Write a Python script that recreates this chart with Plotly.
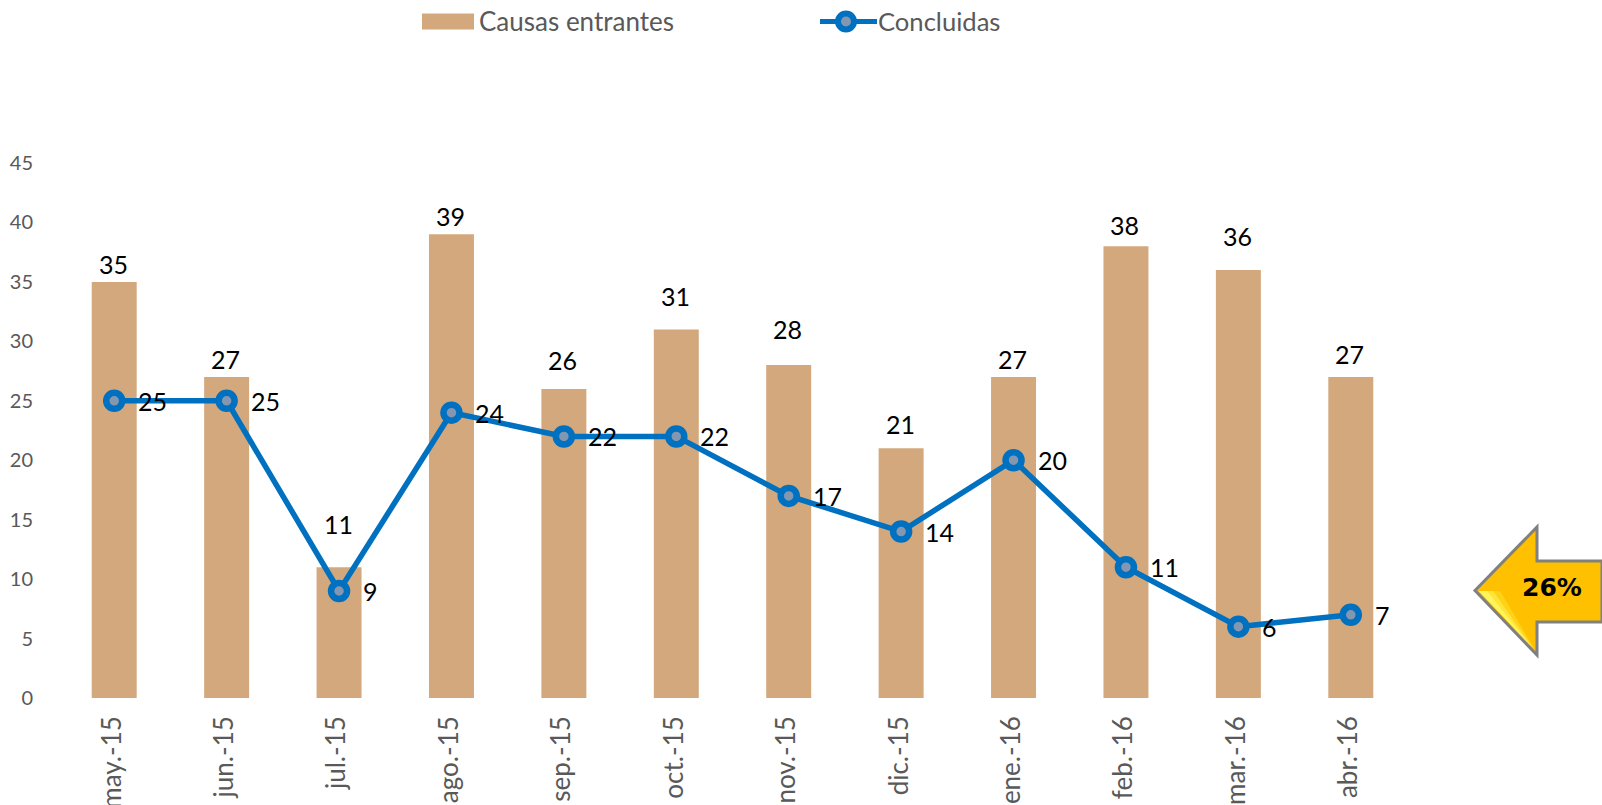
import plotly.graph_objects as go

months = ["may.-15", "jun.-15", "jul.-15", "ago.-15", "sep.-15", "oct.-15",
          "nov.-15", "dic.-15", "ene.-16", "feb.-16", "mar.-16", "abr.-16"]
entrantes = [35, 27, 11, 39, 26, 31, 28, 21, 27, 38, 36, 27]
concluidas = [25, 25, 9, 24, 22, 22, 17, 14, 20, 11, 6, 7]
# vertical gap (px) of each hand-placed bar label above its bar
bar_label_gap = [18, 18, 43, 18, 29, 33, 36, 24, 18, 21, 34, 23]
y_ticks = [0, 5, 10, 15, 20, 25, 30, 35, 40, 45]

W, H = 1602, 805
L, R, T, B = 58, 195, 163, 107
FONT = "Lato"
BAR = "#D3A87C"
BLUE = "#0070C0"
INNER = "#8497B0"
GREY = "#595959"


def px(x):
    return (x - L) / (W - L - R)


def py(y):
    return 1 - (y - T) / (H - T - B)


def path(points):
    return "M" + " L".join(f"{px(x):.5f},{py(y):.5f}" for x, y in points) + " Z"


fig = go.Figure()
fig.add_trace(go.Bar(x=months, y=entrantes, name="Causas entrantes",
                     marker=dict(color=BAR, line=dict(width=0)), width=0.4,
                     showlegend=False))
fig.add_trace(go.Scatter(x=months, y=concluidas, name="Concluidas", mode="lines+markers",
                         line=dict(color=BLUE, width=5.5),
                         marker=dict(size=16, color=INNER, line=dict(color=BLUE, width=6.5)),
                         showlegend=False))

annotations = []
for m, v, gap in zip(months, entrantes, bar_label_gap):
    annotations.append(dict(x=m, y=v, text=str(v), showarrow=False, xanchor="center", yanchor="middle",
                            yshift=gap, xshift=-1, font=dict(family=FONT, size=25, color="black")))
for m, v in zip(months, concluidas):
    annotations.append(dict(x=m, y=v, text=str(v), showarrow=False, xanchor="left",
                            yanchor="middle", xshift=22, yshift=0,
                            font=dict(family=FONT, size=25, color="black")))

shapes = []
# Arrow
arrow = [(1475, 590.5), (1537, 527), (1537, 561), (1602, 561), (1602, 622), (1537, 622), (1537, 655)]
shapes.append(dict(type="path", xref="paper", yref="paper", path=path(arrow),
                   fillcolor="#FFC000", line=dict(color="#808080", width=3), layer="above"))
# Highlight of the arrow head
for pts, col in [
    ([(1479, 591), (1500, 591), (1535, 650)], "#FFD21A"),
    ([(1479, 591), (1493, 591), (1533, 648)], "#FFE53A"),
    ([(1479, 591), (1487, 591), (1531, 646)], "#FFF45A"),
]:
    shapes.append(dict(type="path", xref="paper", yref="paper", path=path(pts),
                       fillcolor=col, line=dict(width=0), layer="above"))

# Legend
shapes.append(dict(type="rect", xref="paper", yref="paper", x0=px(422), x1=px(474),
                   y0=py(13.5), y1=py(29.5), fillcolor=BAR, line=dict(width=0)))
shapes.append(dict(type="line", xref="paper", yref="paper", x0=px(820), x1=px(877),
                   y0=py(21.5), y1=py(21.5), line=dict(color=BLUE, width=5)))
shapes.append(dict(type="circle", xref="paper", yref="paper", x0=px(838), x1=px(854),
                   y0=py(13.5), y1=py(29.5), fillcolor=INNER, line=dict(color=BLUE, width=6)))
annotations.append(dict(xref="paper", yref="paper", x=px(477), y=py(21), text="Causas entrantes",
                        showarrow=False, xanchor="left", yanchor="middle",
                        font=dict(family=FONT, size=26, color=GREY)))
annotations.append(dict(xref="paper", yref="paper", x=px(876), y=py(21), text="Concluidas",
                        showarrow=False, xanchor="left", yanchor="middle",
                        font=dict(family=FONT, size=25.6, color=GREY)))
annotations.append(dict(xref="paper", yref="paper", x=px(1552), y=py(587.5), text="<b>26%</b>",
                        showarrow=False, xanchor="center", yanchor="middle",
                        font=dict(family="DejaVu Sans", size=25, color="black")))

fig.update_layout(
    width=W, height=H, margin=dict(l=L, r=R, t=T, b=B, autoexpand=False),
    paper_bgcolor="white", plot_bgcolor="white", showlegend=False,
    annotations=annotations, shapes=shapes,
    xaxis=dict(type="category", categoryorder="array", categoryarray=months, range=[-0.5, 11.5],
               tickangle=-90, showgrid=False, zeroline=False, showline=False, ticks="",
               ticklabelstandoff=12, ticklabelshift=-2,
               tickfont=dict(family=FONT, size=26, color=GREY)),
    yaxis=dict(range=[0, 45], tickvals=y_ticks, showgrid=False, zeroline=False, showline=False,
               ticks="", ticklabelstandoff=24, tickfont=dict(family=FONT, size=20, color=GREY)),
)
fig.write_html("out.html", config=dict(displayModeBar=False),
               post_script="document.body.style.margin='0';document.body.style.overflow='hidden';")
